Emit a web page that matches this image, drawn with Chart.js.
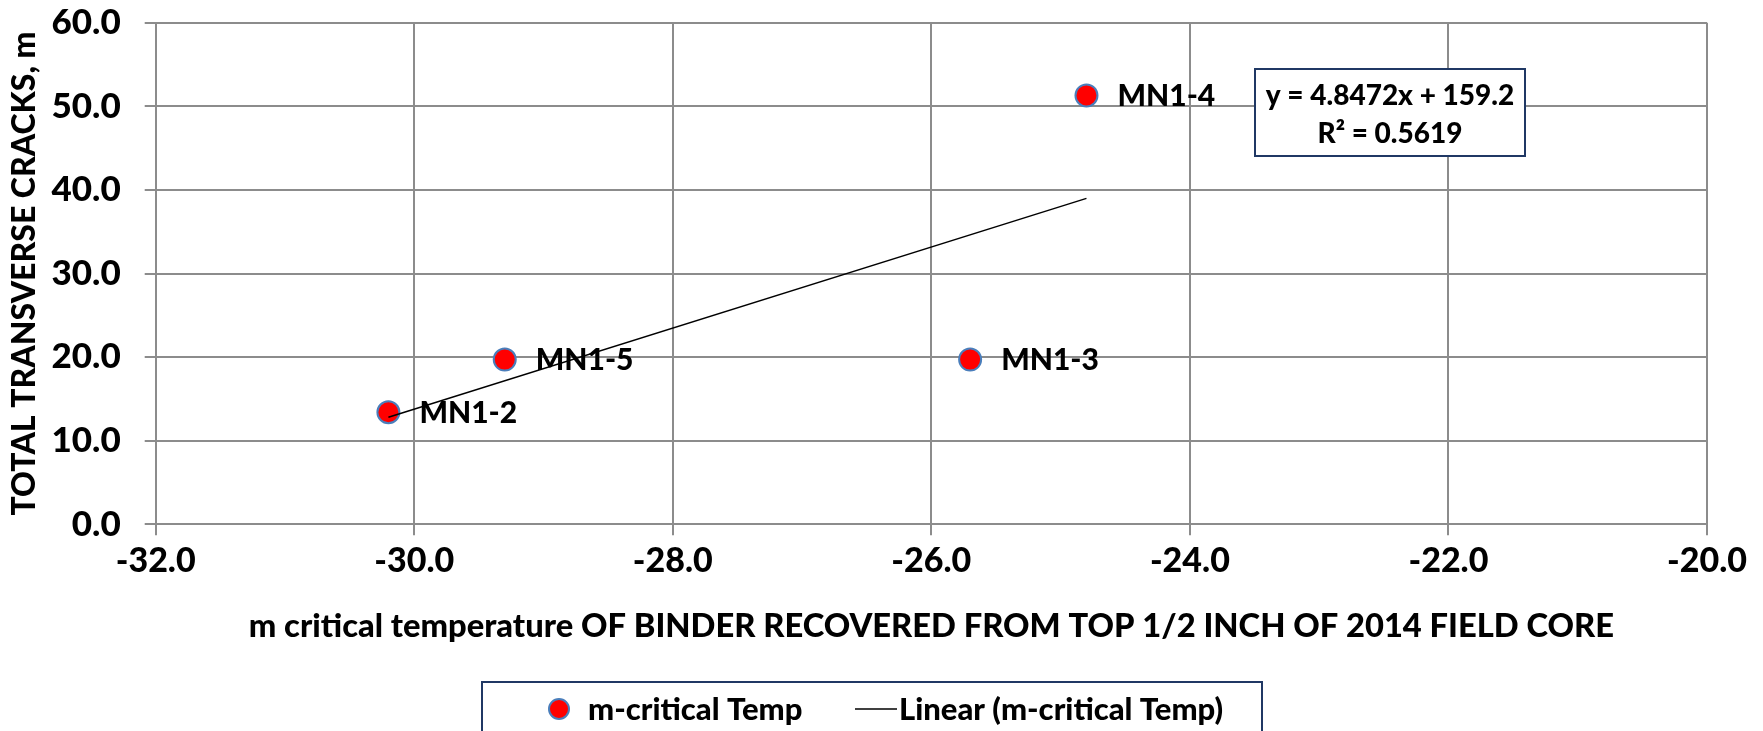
<!DOCTYPE html>
<html>
<head>
<meta charset="utf-8">
<title>Transverse cracks vs m critical temperature</title>
<script src="https://cdn.jsdelivr.net/npm/chart.js@4.4.1/dist/chart.umd.min.js"></script>
<style>
  html, body { margin: 0; padding: 0; background: #fff; }
  canvas { display: block; }
</style>
</head>
<body>
<canvas id="crackChart" width="1763" height="731"></canvas>
<script>
// m critical temperature (deg C) and total transverse cracks per core site
const siteNames = ['MN1-2', 'MN1-5', 'MN1-3', 'MN1-4'];
const mCritTemp = [-30.2, -29.3, -25.7, -24.8];
const totalCracks = [13.4, 19.7, 19.7, 51.3];

// Linear trendline as reported by the fit
const trendSlope = 4.8472;
const trendIntercept = 159.2;
const trendR2 = 0.5619;

const xRange = [-32, -20];
const yRange = [0, 60];

const FONT = 'Lato, "Open Sans", sans-serif';
const WEIGHT = '900';
const BOX_BLUE = '#203864';
const GRID_GREY = '#8c8c8c';

const scatterPoints = mCritTemp.map((x, i) => ({ x: x, y: totalCracks[i] }));
const xMin = Math.min(...mCritTemp);
const xMax = Math.max(...mCritTemp);
const trendPoints = [xMin, xMax].map(x => ({ x: x, y: trendSlope * x + trendIntercept }));

// labels next to the markers, the equation box and the boxed legend
const annotations = {
    id: 'annotations',
    afterDatasetsDraw(chart) {
        const ctx = chart.ctx;
        const meta = chart.getDatasetMeta(1);
        ctx.save();
        ctx.fillStyle = '#000';
        ctx.font = WEIGHT + ' 30px ' + FONT;
        ctx.textAlign = 'left';
        ctx.textBaseline = 'middle';
        meta.data.forEach((pt, i) => {
            ctx.fillText(siteNames[i], pt.x + 31, pt.y + 1);
        });

        // equation box
        ctx.fillStyle = '#fff';
        ctx.fillRect(1255, 69, 270, 87);
        ctx.strokeStyle = BOX_BLUE;
        ctx.lineWidth = 2;
        ctx.strokeRect(1255, 69, 270, 87);
        ctx.fillStyle = '#000';
        ctx.font = WEIGHT + ' 28px ' + FONT;
        ctx.textAlign = 'center';
        ctx.fillText('y = ' + trendSlope + 'x + ' + trendIntercept, 1390, 96);
        ctx.fillText('R\u00B2 = ' + trendR2, 1390, 134);

        // legend box (runs past the bottom edge)
        ctx.fillStyle = '#fff';
        ctx.fillRect(482, 682, 780, 60);
        ctx.strokeRect(482, 682, 780, 60);
        ctx.beginPath();
        ctx.arc(559, 709, 10, 0, Math.PI * 2);
        ctx.fillStyle = '#ff0000';
        ctx.fill();
        ctx.strokeStyle = '#4a7ebb';
        ctx.lineWidth = 2;
        ctx.stroke();
        ctx.fillStyle = '#000';
        ctx.font = WEIGHT + ' 31px ' + FONT;
        ctx.textAlign = 'left';
        ctx.fillText('m-critical Temp', 588, 710);
        ctx.beginPath();
        ctx.moveTo(855, 709);
        ctx.lineTo(897, 709);
        ctx.strokeStyle = '#000';
        ctx.lineWidth = 1.5;
        ctx.stroke();
        ctx.fillText('Linear (m-critical Temp)', 899, 710);
        ctx.restore();
    }
};

new Chart(document.getElementById('crackChart'), {
    type: 'scatter',
    data: {
        datasets: [
            {
                label: 'Linear (m-critical Temp)',
                data: trendPoints,
                showLine: true,
                borderColor: '#000',
                borderWidth: 1.5,
                pointRadius: 0,
                fill: false
            },
            {
                label: 'm-critical Temp',
                data: scatterPoints,
                pointRadius: 11,
                pointBackgroundColor: '#ff0000',
                pointBorderColor: '#4a7ebb',
                pointBorderWidth: 2
            }
        ]
    },
    options: {
        responsive: false,
        animation: false,
        layout: { padding: { top: 22.7, right: 56, left: 0, bottom: 0 } },
        plugins: {
            legend: { display: false },
            tooltip: { enabled: false }
        },
        scales: {
            x: {
                type: 'linear',
                min: xRange[0],
                max: xRange[1],
                afterFit(scale) {
                    scale.height = 206.7;
                    scale.paddingLeft = 0;
                    scale.paddingRight = 0;
                },
                grid: { color: GRID_GREY, lineWidth: 2, tickLength: 11, tickColor: GRID_GREY },
                border: { color: GRID_GREY, width: 2 },
                ticks: {
                    stepSize: 2,
                    padding: 5,
                    color: '#000',
                    font: { family: FONT, size: 34, weight: WEIGHT },
                    callback: v => v.toFixed(1)
                },
                title: {
                    display: true,
                    text: 'm critical temperature OF BINDER RECOVERED FROM TOP 1/2 INCH OF 2014 FIELD CORE',
                    color: '#000',
                    font: { family: FONT, size: 32.7, weight: WEIGHT },
                    padding: { top: 0, bottom: 85 }
                }
            },
            y: {
                type: 'linear',
                min: yRange[0],
                max: yRange[1],
                afterFit(scale) {
                    // keep the plot top fixed by the layout padding only
                    scale.width = 155.7;
                    scale.paddingTop = 0;
                    scale.paddingBottom = 0;
                },
                grid: { color: GRID_GREY, lineWidth: 2, tickLength: 11, tickColor: GRID_GREY },
                border: { color: GRID_GREY, width: 2 },
                ticks: {
                    stepSize: 10,
                    padding: 24,
                    color: '#000',
                    font: { family: FONT, size: 35, weight: WEIGHT },
                    callback: v => v.toFixed(1)
                },
                title: {
                    display: true,
                    text: 'TOTAL TRANSVERSE CRACKS, m',
                    color: '#000',
                    font: { family: FONT, size: 32, weight: WEIGHT },
                    padding: { top: 5, bottom: 0 }
                }
            }
        }
    },
    plugins: [annotations]
});
</script>
</body>
</html>
